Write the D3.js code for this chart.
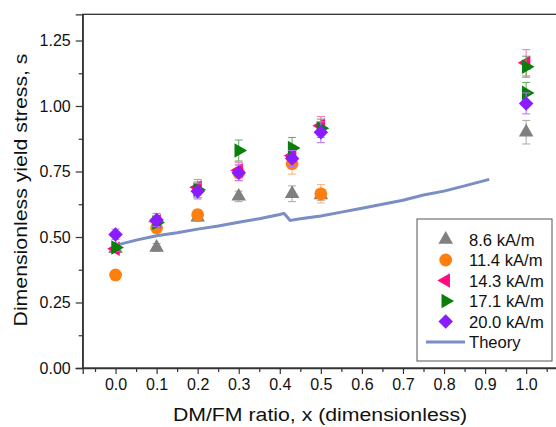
<!DOCTYPE html>
<html><head><meta charset="utf-8">
<script src="https://cdn.jsdelivr.net/npm/d3@7"></script>
<style>
body{margin:0;background:#fff;}
svg{display:block;font-family:"Liberation Sans",Arial,sans-serif;}
</style></head>
<body><svg id="c" width="556" height="427"></svg>
<script>
// ---- data ----
const xTicks = [0,0.1,0.2,0.3,0.4,0.5,0.6,0.7,0.8,0.9,1.0];
const yTicks = [0,0.25,0.5,0.75,1.0,1.25];
const seriesNames = ["8.6 kA/m","11.4 kA/m","14.3 kA/m","17.1 kA/m","20.0 kA/m"];
const x86  = [0,0.1,0.2,0.3,0.43,0.5,1.0];
const y86  = [0.455,0.46,0.575,0.655,0.665,0.66,0.90];
const e86  = [0.01,0.015,0.015,0.02,0.03,0.02,0.045];
const x114 = [0,0.1,0.2,0.3,0.43,0.5];
const y114 = [0.355,0.535,0.585,0.745,0.78,0.665];
const e114 = [0.01,0.02,0.02,0.03,0.04,0.035];
const x143 = [0,0.1,0.2,0.3,0.43,0.5,1.0];
const y143 = [0.455,0.56,0.69,0.755,0.81,0.925,1.165];
const e143 = [0.015,0.02,0.03,0.03,0.04,0.035,0.05];
const x171 = [0,0.1,0.2,0.3,0.43,0.5,1.0,1.0];
const y171 = [0.46,0.555,0.68,0.83,0.84,0.915,1.15,1.05];
const e171 = [0.015,0.02,0.03,0.04,0.04,0.035,0.04,0.04];
const x200 = [0,0.1,0.2,0.3,0.43,0.5,1.0];
const y200 = [0.51,0.565,0.675,0.745,0.80,0.90,1.01];
const e200 = [0.02,0.025,0.03,0.03,0.03,0.04,0.04];
const theoryX = [0,0.05,0.1,0.15,0.2,0.25,0.3,0.35,0.4,0.41,0.415,0.425,0.45,0.5,0.55,0.6,0.65,0.7,0.75,0.8,0.85,0.91];
const theoryY = [0.468,0.488,0.505,0.516,0.53,0.542,0.556,0.57,0.586,0.59,0.582,0.563,0.57,0.58,0.595,0.61,0.625,0.64,0.66,0.675,0.695,0.72];

const colors = ["#808080","#ff7f0e","#ff0a80","#0a800a","#8a1cff"];
const errColors = ["#a9a9a9","#ffb070","#ff70b0","#60a860","#b070ff"];
const shapes = ["up","circle","left","right","diamond"];
const series = [
  {x:x86,y:y86,e:e86},{x:x114,y:y114,e:e114},{x:x143,y:y143,e:e143},
  {x:x171,y:y171,e:e171},{x:x200,y:y200,e:e200}
];

// ---- layout ----
const L=82.7, T=14.3, B=368, R=559;
const x = d3.scaleLinear([-0.08,1.08],[L,R]);
const y = d3.scaleLinear([0,1.35],[B,T]);
const svg = d3.select("#c");

function sym(shape){
  if(shape==="circle") return {p:d3.symbol(d3.symbolCircle,128)(),r:0};
  if(shape==="diamond") return {p:d3.symbol(d3.symbolSquare,105)(),r:45};
  const p=d3.symbol(d3.symbolTriangle,92)();
  return {p:p,r: shape==="up"?0:(shape==="left"?-90:90)};
}

// frame
svg.append("rect").attr("x",L).attr("y",T).attr("width",R-L).attr("height",B-T)
  .attr("fill","none").attr("stroke","#333").attr("stroke-width",1.3);

// axes
const xAxis = svg.append("g").attr("transform",`translate(0,${B})`)
  .call(d3.axisBottom(x).tickValues(xTicks).tickSize(6).tickPadding(5).tickFormat(d3.format(".1f")));
const xMinor = svg.append("g").attr("transform",`translate(0,${B})`)
  .call(d3.axisBottom(x).tickValues(d3.range(-0.05,1.06,0.1)).tickSize(4).tickFormat(""));
const yAxis = svg.append("g").attr("transform",`translate(${L},0)`)
  .call(d3.axisLeft(y).tickValues(yTicks).tickSize(7).tickPadding(5).tickFormat(d3.format(".2f")));
const yMinor = svg.append("g").attr("transform",`translate(${L},0)`)
  .call(d3.axisLeft(y).tickValues(d3.range(0.125,1.3,0.25)).tickSize(4).tickFormat(""));
[xAxis,xMinor,yAxis,yMinor].forEach(g=>{
  g.selectAll(".domain").attr("stroke","#333").attr("stroke-width",1.3);
  g.selectAll(".tick line").attr("stroke","#333").attr("stroke-width",1.2);
  g.selectAll("text").attr("font-size",16).attr("fill","#111").attr("font-family","Liberation Sans, Arial, sans-serif");
});
xMinor.select(".domain").remove(); yMinor.select(".domain").remove();

// titles
svg.append("text").attr("x",320).attr("y",421).attr("text-anchor","middle")
  .attr("font-size",19).attr("fill","#111").attr("transform","translate(320,0) scale(1.12,1) translate(-320,0)")
  .text("DM/FM ratio, x (dimensionless)");
svg.append("text").attr("transform","translate(27,190) rotate(-90) scale(1.12,1)")
  .attr("text-anchor","middle").attr("font-size",19).attr("fill","#111")
  .text("Dimensionless yield stress, s");

// theory line
const tpts = theoryX.map((d,i)=>[d,theoryY[i]]);
svg.append("path").attr("d",d3.line().x(d=>x(d[0])).y(d=>y(d[1]))(tpts))
  .attr("fill","none").attr("stroke","#7a8dc4").attr("stroke-width",3);

// series
series.forEach((s,k)=>{
  const g = svg.append("g");
  const pts = s.x.map((d,i)=>({x:d,y:s.y[i],e:s.e[i]}));
  pts.forEach(p=>{
    const cx=x(p.x), y1=y(p.y+p.e), y2=y(p.y-p.e);
    g.append("line").attr("x1",cx).attr("x2",cx).attr("y1",y1).attr("y2",y2).attr("stroke",errColors[k]).attr("stroke-width",1);
    [y1,y2].forEach(yy=>g.append("line").attr("x1",cx-4).attr("x2",cx+4).attr("y1",yy).attr("y2",yy).attr("stroke",errColors[k]).attr("stroke-width",1));
  });
  const sm = sym(shapes[k]);
  g.selectAll("path.m").data(pts).join("path").attr("class","m")
    .attr("d",sm.p).attr("fill",colors[k])
    .attr("transform",p=>`translate(${x(p.x)},${y(p.y)}) rotate(${sm.r})`);
});

// legend
const lg = svg.append("g");
lg.append("rect").attr("x",417).attr("y",219).attr("width",135).attr("height",142)
  .attr("fill","#fff").attr("stroke","#555").attr("stroke-width",1);
const rowY = d3.range(6).map(i=>239.5+i*20.5);
seriesNames.forEach((n,k)=>{
  const sm=sym(shapes[k]);
  lg.append("path").attr("d",sm.p).attr("fill",colors[k])
    .attr("transform",`translate(445.7,${rowY[k]}) rotate(${sm.r})`);
  lg.append("text").attr("x",469).attr("y",rowY[k]+6).attr("font-size",16.6).attr("fill","#111").text(n);
});
lg.append("line").attr("x1",426).attr("x2",465).attr("y1",rowY[5]).attr("y2",rowY[5]).attr("stroke","#7a8dc4").attr("stroke-width",3);
lg.append("text").attr("x",469).attr("y",rowY[5]+6).attr("font-size",16.6).attr("fill","#111").text("Theory");
</script></body></html>
